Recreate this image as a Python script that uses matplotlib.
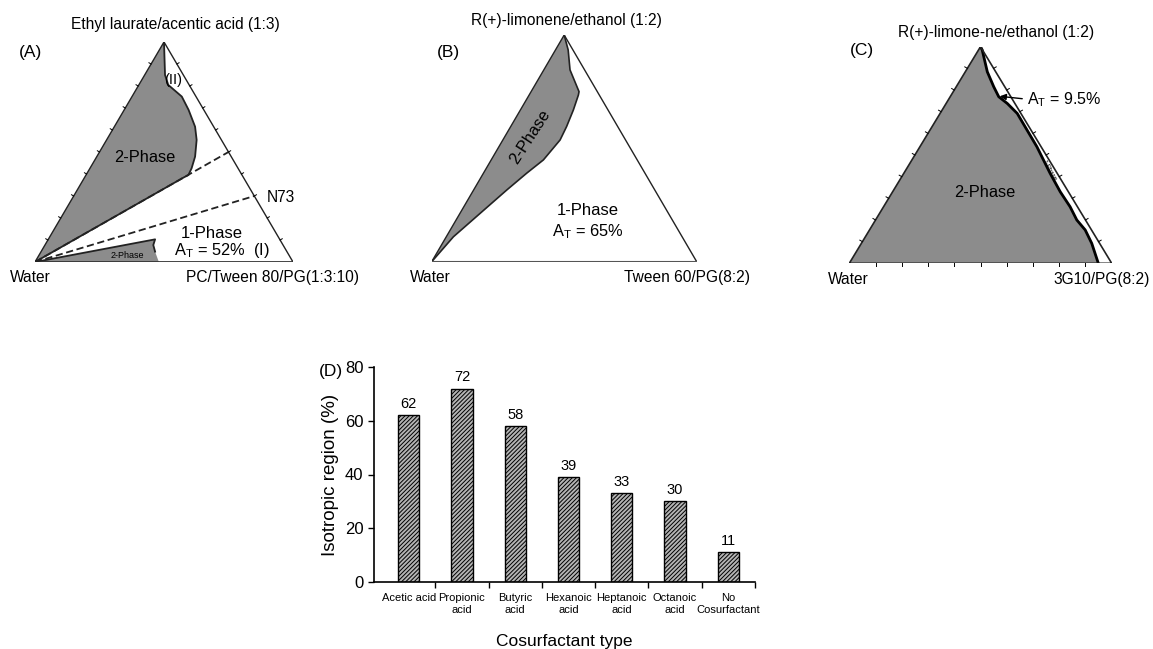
import numpy as np
import matplotlib
matplotlib.use("Agg")
import matplotlib.pyplot as plt
from matplotlib import font_manager

plt.rcParams['font.family'] = ['Liberation Sans', 'DejaVu Sans']
plt.rcParams['hatch.linewidth'] = 0.7

W, H = 1153, 649

# ---------------- data ----------------
# Ternary boundaries: t = fraction of top component (oil/cosurfactant), r = fraction of right component (surfactant)
A_two_phase_t = [1.0, 0.85, 0.805, 0.752, 0.691, 0.615, 0.555, 0.479, 0.426, 0.395, 0.385]
A_two_phase_r = [0.0, 0.079, 0.114, 0.193, 0.250, 0.313, 0.349, 0.381, 0.394, 0.397, 0.385]
A_small_t = [0.0, 0.103, 0.077, 0.047, 0.0]
A_small_r = [0.0, 0.414, 0.420, 0.442, 0.48]
A_dilution_t = [0.5, 0.3]   # 1:1 line and N73 line end points on the right edge
A_dilution_r = [0.5, 0.7]

B_two_phase_t = [1.0, 0.934, 0.846, 0.750, 0.735, 0.669, 0.596, 0.537, 0.449, 0.390, 0.316, 0.213, 0.110, 0.0]
B_two_phase_r = [0.0, 0.048, 0.099, 0.181, 0.186, 0.200, 0.211, 0.216, 0.197, 0.163, 0.125, 0.076, 0.027, 0.0]

C_two_phase_t = [1.0, 0.985, 0.884, 0.815, 0.769, 0.738, 0.692, 0.615, 0.538, 0.415, 0.330, 0.261, 0.200, 0.154, 0.092, 0.0]
C_two_phase_r = [0.0, 0.014, 0.084, 0.143, 0.185, 0.233, 0.294, 0.370, 0.446, 0.558, 0.639, 0.711, 0.767, 0.822, 0.878, 0.949]

bar_categories = ["Acetic acid", "Propionic\nacid", "Butyric\nacid", "Hexanoic\nacid",
                  "Heptanoic\nacid", "Octanoic\nacid", "No\nCosurfactant"]
bar_values = [62, 72, 58, 39, 33, 30, 11]
y_ticks = [0, 20, 40, 60, 80]

GRAY = '#8c8c8c'
LBL = 11.2

_names = {f.name for f in font_manager.fontManager.ttflist}
NARROW = 'Liberation Sans Narrow' if 'Liberation Sans Narrow' in _names else 'Liberation Sans'
TICK_FS = 9.5 if NARROW == 'Liberation Sans Narrow' else 8.0


def tern(t, r):
    t = np.asarray(t, float)
    r = np.asarray(r, float)
    return r + t / 2.0, t


def px_box(l, top, r, b):
    return [l / W, 1 - b / H, (r - l) / W, (b - top) / H]


def ftext(x, y, s, **kw):
    kw.setdefault('ha', 'center')
    kw.setdefault('va', 'center')
    kw.setdefault('fontsize', LBL)
    fig.text(x / W, 1 - y / H, s, **kw)


def tern_axes(box):
    ax = fig.add_axes(box)
    ax.set_xlim(0, 1)
    ax.set_ylim(0, 1)
    ax.axis('off')
    return ax


def edge_ticks(ax, wpx, hpx, edges, length=3.0, lw=0.8):
    fr = np.arange(1, 10) / 10.0
    for e in edges:
        for f in fr:
            if e == 'bottom':
                x0, y0 = tern(0, f)
                nx, ny = 0.0, -1.0
            elif e == 'left':
                x0, y0 = tern(f, 0)
                nx, ny = -0.866, 0.5
            else:
                x0, y0 = tern(f, 1 - f)
                nx, ny = 0.866, 0.5
            ax.plot([x0, x0 + nx * length / wpx], [y0, y0 + ny * length / hpx],
                    color='k', lw=lw, clip_on=False)


fig = plt.figure(figsize=(W / 100, H / 100), dpi=100)

tri_t = [0, 1, 0, 0]
tri_r = [0, 0, 1, 0]

# ---------------- Panel A ----------------
axA = tern_axes(px_box(35, 42, 293, 262))
x, y = tern([0] + A_two_phase_t, [0] + A_two_phase_r)
axA.fill(x, y, color=GRAY, lw=0)
x, y = tern(A_two_phase_t + [0], A_two_phase_r + [0])
axA.plot(x, y, color='#222222', lw=1.3)
x, y = tern(A_small_t, A_small_r)
axA.fill(x, y, color=GRAY, lw=0)
axA.plot(x[:-1], y[:-1], color='#222222', lw=1.3)
x, y = tern(tri_t, tri_r)
axA.plot(x[:3], y[:3], color='#222222', lw=1.0)
axA.plot(x[2:], y[2:], color='#333333', lw=2.0)
for t, r in zip(A_dilution_t, A_dilution_r):
    xx, yy = tern([0, t], [0, r])
    axA.plot(xx, yy, color='#222222', lw=1.3, ls=(0, (4, 2)))
edge_ticks(axA, 258, 220, ['left', 'right'], length=2.5, lw=0.7)

ftext(175, 25, "Ethyl laurate/acentic acid (1:3)")
ftext(30, 52, "(A)", fontsize=12.5)
ftext(30, 277, "Water")
ftext(273, 277, "PC/Tween 80/PG(1:3:10)")
ftext(173, 80, "(II)", fontsize=10.5)
ftext(145, 158, "2-Phase", fontsize=11.8)
ftext(281, 197, "N73")
ftext(212, 233, "1-Phase", fontsize=12)
ftext(222, 251, r"A$_\mathregular{T}$ = 52%  (I)", fontsize=11.8)
ftext(127, 256, "2-Phase", fontsize=6.5)

# ---------------- Panel B ----------------
axB = tern_axes(px_box(431.7, 35, 696.7, 261.7))
x, y = tern(B_two_phase_t, B_two_phase_r)
axB.fill(x, y, color=GRAY, lw=0)
axB.plot(x, y, color='#222222', lw=1.2)
x, y = tern(tri_t, tri_r)
axB.plot(x[:3], y[:3], color='#222222', lw=1.0)
axB.plot(x[2:], y[2:], color='#555555', lw=1.5)

ftext(566, 20, "R(+)-limonene/ethanol (1:2)")
ftext(448, 52, "(B)", fontsize=12.5)
ftext(430, 277, "Water")
ftext(687, 277, "Tween 60/PG(8:2)")
ftext(530, 137, "2-Phase", fontsize=11.8, rotation=57)
ftext(588, 210, "1-Phase", fontsize=12)
ftext(588, 232, r"A$_\mathregular{T}$ = 65%", fontsize=11.8)

# ---------------- Panel C ----------------
axC = tern_axes(px_box(849.3, 46.7, 1111.7, 263.3))
x, y = tern([0] + C_two_phase_t, [0] + C_two_phase_r)
axC.fill(x, y, color=GRAY, lw=0)
x, y = tern(C_two_phase_t, C_two_phase_r)
axC.plot(x, y, color='k', lw=2.0)
x, y = tern(tri_t, tri_r)
axC.plot(x, y, color='#222222', lw=1.2)
edge_ticks(axC, 262.3, 216.7, ['left', 'right', 'bottom'], length=3.0, lw=0.7)

ftext(996, 32, "R(+)-limone-ne/ethanol (1:2)")
ftext(862, 51, "(C)", fontsize=12.5)
ftext(848, 280, "Water")
ftext(1102, 280, "3G10/PG(8:2)")
ftext(985, 192, "2-Phase", fontsize=11.8)
ftext(1050, 170, "1-Phase", fontsize=4.5, rotation=-60)
fig.text(1027 / W, 1 - 100 / H, r"A$_\mathregular{T}$ = 9.5%", fontsize=11.5, ha='left', va='center')
fig.add_artist(matplotlib.patches.FancyArrowPatch(
    (1025 / W, 1 - 99 / H), (997 / W, 1 - 96 / H), transform=fig.transFigure,
    arrowstyle='-|>', mutation_scale=9, color='k', lw=1.0))

# ---------------- Panel D ----------------
axD = fig.add_axes(px_box(374, 367, 755, 582))
xpos = np.arange(len(bar_values))
bars = axD.bar(xpos, bar_values, width=0.4, facecolor='#b4b4b4', edgecolor='k',
               hatch='////////', linewidth=1.0)
for xi, v in zip(xpos, bar_values):
    axD.text(xi, v + 1.5, str(v), ha='center', va='bottom', fontsize=10.5)
axD.set_xlim(-0.65, 6.35)
axD.set_ylim(0, 80)
axD.set_yticks(y_ticks)
axD.tick_params(axis='y', labelsize=12, length=4, width=1.0, direction='out')
axD.set_xticks(xpos)
axD.set_xticklabels(bar_categories, fontsize=TICK_FS, linespacing=1.2, family=NARROW)
axD.tick_params(axis='x', which='major', length=0, pad=8)
axD.set_xticks(np.arange(len(bar_values)) + 0.5, minor=True)
axD.tick_params(axis='x', which='minor', length=4, width=1.0, direction='out')
for s in ['top', 'right']:
    axD.spines[s].set_visible(False)
for s in ['left', 'bottom']:
    axD.spines[s].set_linewidth(1.2)
axD.set_ylabel("Isotropic region (%)", fontsize=13.5, labelpad=4)
axD.set_xlabel("Cosurfactant type", fontsize=12.5, labelpad=14)
ftext(331, 372, "(D)", fontsize=12.5)

fig.savefig("out.png", dpi=100)
